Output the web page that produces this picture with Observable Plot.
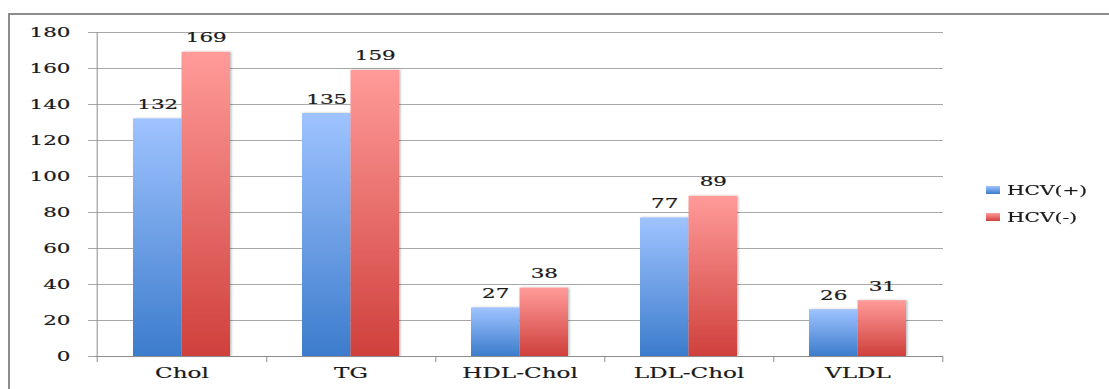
<!DOCTYPE html>
<html>
<head>
<meta charset="utf-8">
<script src="https://cdn.jsdelivr.net/npm/d3@7"></script>
<script src="https://cdn.jsdelivr.net/npm/@observablehq/plot@0.6"></script>
<style>
  html, body { margin: 0; padding: 0; background: #fff; }
  #wrap { position: relative; width: 1109px; height: 389px; overflow: hidden; }
  #border { position: absolute; left: 8px; top: 13px; width: 1200px; height: 500px;
            border-left: 2px solid #8c8c8c; border-top: 2px solid #8c8c8c; }
  #chart { position: absolute; left: 0; top: 0; }
  #chart text { stroke: #1a1a1a; stroke-width: 0.18px; }
  #legend { position: absolute; left: 986px; top: 181px; font-family: "DejaVu Serif", serif;
            font-size: 13px; color: #1a1a1a; -webkit-text-stroke: 0.18px #1a1a1a; }
  .row { display: flex; align-items: center; height: 18px; margin-bottom: 9px; }
  .sw { width: 14px; height: 8px; margin-right: 7px; }
  .lab { display: inline-block; transform: scaleX(1.55); transform-origin: left center; white-space: nowrap; }
</style>
</head>
<body>
<div id="wrap">
  <div id="border"></div>
  <div id="chart"></div>
  <div id="legend"></div>
</div>
<script>
const categories = ["Chol", "TG", "HDL-Chol", "LDL-Chol", "VLDL"];
const seriesNames = ["HCV(+)", "HCV(-)"];
const hcvPos = [132, 135, 27, 77, 26];
const hcvNeg = [169, 159, 38, 89, 31];
const yTicks = [0, 20, 40, 60, 80, 100, 120, 140, 160, 180];

const posRows = categories.map((c, i) => ({cat: c, value: hcvPos[i], series: seriesNames[0]}));
const negRows = categories.map((c, i) => ({cat: c, value: hcvNeg[i], series: seriesNames[1]}));

const W = 1109, H = 389, mL = 95, mR = 166, mT = 32, mB = 33;
const pIn = 0.428, pOut = 0.214;
const step = (W - mL - mR) / (categories.length - pIn + 2 * pOut);
const bw = step * (1 - pIn);
const font = "DejaVu Serif";

const svg = Plot.plot({
  width: W, height: H,
  marginLeft: mL, marginRight: mR, marginTop: mT, marginBottom: mB,
  style: {fontFamily: font, color: "#1a1a1a", background: "transparent"},
  x: {type: "band", domain: categories, paddingInner: pIn, paddingOuter: pOut, axis: null},
  y: {domain: [0, 180], axis: null},
  marks: [
    Plot.ruleY(yTicks, {y: d => d, stroke: "#a8a8a8", strokeWidth: 1, insetLeft: -7}),
    Plot.barY(posRows, {x: "cat", y: "value", fill: "url(#gradBlue)", insetRight: bw / 2}),
    Plot.barY(negRows, {x: "cat", y: "value", fill: "url(#gradRed)", insetLeft: bw / 2}),
    Plot.ruleX([categories[0]], {x: d => d, dx: -step / 2, stroke: "#8c8c8c", insetBottom: -6}),
    Plot.ruleX(categories, {x: d => d, dx: step / 2, y1: 0, y2: 0, stroke: "#8c8c8c", insetBottom: -6}),
    Plot.ruleY([0], {stroke: "#8c8c8c"}),
    Plot.axisX({tickSize: 0, tickPadding: 12, fontSize: 14, fill: "#1a1a1a", label: null}),
    Plot.axisY({ticks: yTicks, tickSize: 0, tickPadding: 25, fontSize: 13, fill: "#1a1a1a", label: null}),
    Plot.text(posRows, {x: "cat", y: "value", text: d => String(d.value), dx: -bw / 4, dy: -10, lineAnchor: "bottom", fontSize: 13, fill: "#1a1a1a"}),
    Plot.text(negRows, {x: "cat", y: "value", text: d => String(d.value), dx: bw / 4, dy: -10, lineAnchor: "bottom", fontSize: 13, fill: "#1a1a1a"})
  ]
});

// gradients and shadow
const defs = d3.select(svg).insert("defs", ":first-child");
function grad(id, top, bottom) {
  const g = defs.append("linearGradient").attr("id", id).attr("x1", 0).attr("y1", 0).attr("x2", 0).attr("y2", 1);
  g.append("stop").attr("offset", "0%").attr("stop-color", top);
  g.append("stop").attr("offset", "100%").attr("stop-color", bottom);
}
grad("gradBlue", "#9fc3ff", "#3c7ccc");
grad("gradRed", "#ff9b99", "#cf403c");
const f = defs.append("filter").attr("id", "sh").attr("x", "-10%").attr("y", "-10%").attr("width", "130%").attr("height", "120%");
f.append("feDropShadow").attr("dx", 1.5).attr("dy", 0).attr("stdDeviation", 1.2).attr("flood-color", "#000").attr("flood-opacity", 0.25);
d3.select(svg).selectAll("rect").filter(function() {
  const fl = this.getAttribute("fill") || (this.parentNode && this.parentNode.getAttribute("fill")) || "";
  return fl.startsWith("url(");
}).attr("filter", "url(#sh)");

// horizontally widen text (reference glyphs are stretched)
d3.select(svg).selectAll("text").each(function() {
  const t = this.getAttribute("transform");
  if (t) this.setAttribute("transform", t + " scale(1.65,1)");
});

document.getElementById("chart").appendChild(svg);

// legend
const legend = d3.select("#legend");
const swatches = ["linear-gradient(#9fc3ff, #3c7ccc)", "linear-gradient(#ff9b99, #cf403c)"];
seriesNames.forEach((s, i) => {
  const r = legend.append("div").attr("class", "row");
  r.append("div").attr("class", "sw").style("background", swatches[i]);
  r.append("span").attr("class", "lab").text(s);
});
</script>
</body>
</html>
